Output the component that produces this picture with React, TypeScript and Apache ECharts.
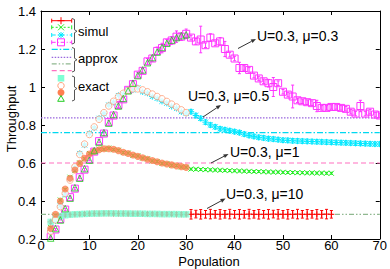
import React, { useEffect, useRef } from 'react';
import * as echarts from 'echarts';

const FONT = "'Liberation Sans', Arial, Helvetica, sans-serif";

// population values (x)
const population = [2,3,4,5,6,7,8,9,10,11,12,13,14,15,16,17,18,19,20,21,22,23,24,25,26,27,28,29,30,
  31,32,33,34,35,36,37,38,39,40,41,42,43,44,45,46,47,48,49,50,51,52,53,54,55,56,57,58,59,60,
  61,62,63,64,65,66,67,68,69,70];

const xTicks = [0, 70, 10];
const yTicks = [0.2, 1.4, 0.2];

// exact (N = 2..30)
const exactMu10 = [0.29,0.31,0.32,0.325,0.328,0.33,0.331,0.332,0.333,0.334,0.334,0.335,0.335,0.335,0.334,0.334,0.334,0.333,0.333,0.333,0.332,0.332,0.332,0.331,0.331,0.331,0.331,0.33,0.33];
const exactMu05 = [0.24,0.30,0.37,0.44,0.51,0.58,0.645,0.70,0.75,0.79,0.83,0.865,0.90,0.925,0.95,0.967,0.982,0.99,0.99,0.985,0.975,0.963,0.95,0.938,0.924,0.91,0.895,0.88,0.865];
const exactMu1 = [0.255,0.33,0.40,0.463,0.52,0.563,0.598,0.625,0.647,0.662,0.67,0.675,0.675,0.672,0.665,0.657,0.65,0.642,0.635,0.628,0.62,0.613,0.607,0.60,0.595,0.59,0.585,0.581,0.577];
const exactMu03 = [0.205,0.255,0.30,0.36,0.415,0.47,0.52,0.57,0.615,0.665,0.71,0.76,0.81,0.855,0.90,0.94,0.98,1.02,1.06,1.09,1.128,1.155,1.184,1.208,1.23,1.247,1.26,1.27,1.275];

// simulation (mu=10 and mu=1: N = 2..60; mu=0.5 and mu=0.3: N = 2..70)
const simulMu10 = [0.29,0.31,0.32,0.326,0.328,0.33,0.331,0.332,0.333,0.334,0.334,0.335,0.335,0.334,0.334,0.334,0.333,0.333,0.333,0.332,0.332,0.332,0.331,0.331,0.331,0.331,0.33,0.33,0.33,
  0.33,0.331,0.33,0.33,0.331,0.33,0.33,0.33,0.331,0.33,0.33,0.33,0.331,0.33,0.33,0.33,0.33,0.331,0.33,0.33,0.33,0.33,0.331,0.33,0.33,0.33,0.33,0.33,0.331,0.33];
const errMu10 = [0.008,0.008,0.008,0.008,0.008,0.008,0.008,0.008,0.008,0.008,0.008,0.008,0.008,0.008,0.008,0.008,0.008,0.008,0.008,0.008,0.008,0.008,0.008,0.008,0.008,0.008,0.008,0.008,0.008,
  0.025,0.02,0.025,0.02,0.025,0.02,0.025,0.02,0.025,0.02,0.025,0.02,0.025,0.02,0.025,0.02,0.025,0.02,0.025,0.02,0.025,0.02,0.025,0.02,0.025,0.02,0.025,0.02,0.025,0.02];
const simulMu1 = [0.26,0.325,0.405,0.46,0.525,0.56,0.60,0.622,0.65,0.66,0.673,0.672,0.678,0.67,0.667,0.655,0.652,0.64,0.637,0.626,0.622,0.611,0.608,0.598,0.596,0.588,0.586,0.579,0.578,
  0.568,0.567,0.566,0.565,0.564,0.563,0.562,0.561,0.56,0.559,0.558,0.557,0.556,0.555,0.555,0.554,0.553,0.552,0.552,0.551,0.55,0.55,0.549,0.549,0.548,0.548,0.547,0.547,0.546,0.546];
const errMu1 = [0.005,0.005,0.005,0.005,0.005,0.005,0.005,0.005,0.005,0.005,0.005,0.005,0.005,0.005,0.005,0.005,0.005,0.005,0.005,0.005,0.005,0.005,0.005,0.005,0.005,0.005,0.005,0.005,0.005,
  0.005,0.005,0.005,0.005,0.005,0.005,0.005,0.005,0.005,0.005,0.005,0.005,0.005,0.005,0.005,0.005,0.005,0.005,0.005,0.005,0.005,0.005,0.005,0.005,0.005,0.005,0.005,0.005,0.005,0.005];
const simulMu05 = [0.245,0.295,0.375,0.435,0.515,0.575,0.65,0.695,0.755,0.785,0.835,0.86,0.905,0.92,0.955,0.962,0.985,0.985,0.995,0.975,0.968,0.95,0.94,0.925,0.915,0.898,0.888,0.87,0.862,
  0.87,0.85,0.835,0.815,0.80,0.79,0.78,0.775,0.77,0.765,0.76,0.752,0.745,0.74,0.735,0.732,0.728,0.726,0.723,0.72,0.719,0.717,0.716,0.715,0.714,0.713,0.712,0.711,0.71,0.709,0.708,0.707,0.706,0.705,0.704,0.703,0.702,0.701,0.70,0.70];
const errMu05 = [0.005,0.005,0.005,0.005,0.005,0.005,0.005,0.005,0.005,0.005,0.005,0.005,0.005,0.005,0.005,0.005,0.005,0.005,0.005,0.005,0.005,0.005,0.005,0.005,0.005,0.005,0.005,0.005,0.005,
  0.012,0.012,0.012,0.012,0.012,0.012,0.012,0.012,0.012,0.012,0.012,0.012,0.012,0.012,0.012,0.012,0.012,0.012,0.012,0.012,0.012,0.012,0.012,0.012,0.012,0.012,0.012,0.012,0.012,0.012,0.012,0.012,0.012,0.012,0.012,0.012,0.012,0.012,0.012,0.012];
const simulMu03 = [0.21,0.25,0.305,0.355,0.42,0.465,0.525,0.565,0.62,0.66,0.715,0.755,0.815,0.85,0.905,0.935,0.985,1.015,1.065,1.085,1.135,1.15,1.19,1.205,1.235,1.245,1.265,1.265,1.28,
  1.26,1.24,1.25,1.22,1.26,1.23,1.24,1.20,1.17,1.15,1.10,1.10,1.09,1.06,1.045,1.03,1.02,1.00,1.02,0.975,0.96,0.95,0.93,0.925,0.92,0.915,0.90,0.89,0.89,0.895,0.895,0.89,0.885,0.87,0.86,0.90,0.86,0.87,0.855,0.85];
const errMu03 = [0.005,0.005,0.005,0.006,0.006,0.006,0.007,0.007,0.008,0.008,0.008,0.01,0.01,0.01,0.012,0.012,0.012,0.015,0.012,0.012,0.015,0.015,0.02,0.025,0.015,0.02,0.03,0.02,0.025,
  0.012,0.015,0.07,0.012,0.02,0.012,0.02,0.04,0.012,0.012,0.03,0.012,0.012,0.012,0.012,0.012,0.02,0.05,0.012,0.012,0.012,0.06,0.012,0.012,0.012,0.012,0.03,0.012,0.012,0.012,0.012,0.012,0.012,0.012,0.012,0.03,0.012,0.012,0.012,0.012];

// approximations (horizontal levels)
const approxMu05 = 0.76;
const approxMu03 = 0.838;
const approxMu10 = 0.33;
const approxMu1 = 0.60;

const C = {
  red: '#ff0000',
  green: '#22ee22',
  cyan: '#00e8ff',
  magenta: '#ff33ff',
  apCyan: '#00d8f0',
  apPurple: '#9966dd',
  apGray: '#90b890',
  apPink: '#ff70c0',
  aqua: '#7fffd4',
  salmon: '#ffa07a',
  coral: '#ff7f50',
  tri: '#22cc22',
};

function markerShapes(kind: string, x: number, y: number, color: string, s: number) {
  const st = { stroke: color, lineWidth: 1, fill: 'none' };
  const out: any[] = [];
  if (kind === 'plus' || kind === 'star') {
    out.push({ type: 'line', shape: { x1: x - s, y1: y, x2: x + s, y2: y }, style: st });
    out.push({ type: 'line', shape: { x1: x, y1: y - s, x2: x, y2: y + s }, style: st });
  }
  if (kind === 'cross' || kind === 'star') {
    const d = kind === 'star' ? s * 0.8 : s;
    out.push({ type: 'line', shape: { x1: x - d, y1: y - d, x2: x + d, y2: y + d }, style: st });
    out.push({ type: 'line', shape: { x1: x - d, y1: y + d, x2: x + d, y2: y - d }, style: st });
  }
  if (kind === 'square') {
    out.push({ type: 'rect', shape: { x: x - s, y: y - s, width: 2 * s, height: 2 * s }, style: st });
  }
  return out;
}

function simulSeries(name: string, vals: number[], errs: number[], color: string, kind: string, size: number, z: number) {
  return {
    type: 'custom',
    name,
    z,
    clip: true,
    encode: { x: 0, y: 1 },
    data: vals.map((v, i) => [population[i], v, errs[i]]),
    renderItem: (params: any, api: any) => {
      const x = api.value(0), y = api.value(1), e = api.value(2);
      const c = api.coord([x, y]);
      const hi = api.coord([x, y + e]);
      const lo = api.coord([x, y - e]);
      const st = { stroke: color, lineWidth: 1 };
      const ch: any[] = [];
      if (e > 0) {
        ch.push({ type: 'line', shape: { x1: c[0], y1: hi[1], x2: c[0], y2: lo[1] }, style: st });
        ch.push({ type: 'line', shape: { x1: c[0] - 1.5, y1: hi[1], x2: c[0] + 1.5, y2: hi[1] }, style: st });
        ch.push({ type: 'line', shape: { x1: c[0] - 1.5, y1: lo[1], x2: c[0] + 1.5, y2: lo[1] }, style: st });
      }
      ch.push(...markerShapes(kind, c[0], c[1], color, size));
      return { type: 'group', children: ch };
    },
  };
}

function hLine(name: string, v: number, color: string, dash: number[], z: number) {
  return {
    type: 'line', name, z, symbol: 'none', silent: true,
    data: [[xTicks[0], v], [xTicks[1], v]],
    lineStyle: { color, width: 1.2, type: dash },
  };
}

function arrow(x1: number, y1: number, x2: number, y2: number) {
  const dx = x2 - x1, dy = y2 - y1, L = Math.hypot(dx, dy);
  const ux = dx / L, uy = dy / L;
  const hl = 5, hw = 2;
  const bx = x2 - ux * hl, by = y2 - uy * hl;
  return [
    { type: 'line', z: 20, shape: { x1, y1, x2: bx, y2: by }, style: { stroke: '#333', lineWidth: 1 } },
    { type: 'polygon', z: 20, shape: { points: [[x2, y2], [bx - uy * hw, by + ux * hw], [bx + uy * hw, by - ux * hw]] }, style: { fill: '#333' } },
  ];
}

function text(t: string, x: number, y: number, size: number, extra: any = {}) {
  return {
    type: 'text', z: 20, x, y, ...extra,
    style: { text: t, fill: '#000', font: `${size}px ${FONT}`, textAlign: extra.align || 'left', align: extra.align || 'left', textVerticalAlign: 'middle', verticalAlign: 'middle' },
  };
}

const notes = [
  { t: 'U=0.3, μ=0.3', x: 257, y: 36, a: [238, 48.5, 256, 39] },
  { t: 'U=0.3, μ=0.5', x: 188, y: 96, a: [203, 117, 221, 105] },
  { t: 'U=0.3, μ=1', x: 230, y: 152, a: [211, 163, 228.5, 154] },
  { t: 'U=0.3, μ=10', x: 226, y: 194, a: [207, 208.5, 225.5, 198.5] },
];

function buildGraphic() {
  const g: any[] = [];
  const L1 = 51.7, L2 = 71.7, MX = 61;
  const simRows = [
    { y: 20.7, color: C.red, kind: 'plus', dash: null, s: 3.5 },
    { y: 27.3, color: C.green, kind: 'cross', dash: [2, 2], s: 3 },
    { y: 35, color: C.cyan, kind: 'star', dash: [4, 2, 1, 2], s: 3 },
    { y: 42.3, color: C.magenta, kind: 'square', dash: [4, 2, 1, 2], s: 3.5 },
  ];
  simRows.forEach((r) => {
    const st: any = { stroke: r.color, lineWidth: 1 };
    if (r.dash) st.lineDash = r.dash;
    g.push({ type: 'line', z: 20, shape: { x1: L1, y1: r.y, x2: L2, y2: r.y }, style: st });
    g.push({ type: 'line', z: 20, shape: { x1: L1, y1: r.y - 2, x2: L1, y2: r.y + 2 }, style: { stroke: r.color, lineWidth: 1 } });
    g.push({ type: 'line', z: 20, shape: { x1: L2, y1: r.y - 2, x2: L2, y2: r.y + 2 }, style: { stroke: r.color, lineWidth: 1 } });
    markerShapes(r.kind, MX, r.y, r.color, r.s).forEach((m) => g.push({ ...m, z: 20 }));
  });
  const apRows = [
    { y: 49.3, color: C.apCyan, dash: [6, 2, 1.5, 2] },
    { y: 57.3, color: C.apPurple, dash: [1.5, 1.5] },
    { y: 63.8, color: C.apGray, dash: [5, 2, 1.5, 2, 1.5, 2] },
    { y: 70.7, color: C.apPink, dash: [5, 3] },
  ];
  apRows.forEach((r) => {
    g.push({ type: 'line', z: 20, shape: { x1: L1, y1: r.y, x2: L2, y2: r.y }, style: { stroke: r.color, lineWidth: 1.2, lineDash: r.dash } });
  });
  g.push({ type: 'rect', z: 20, shape: { x: MX - 3.3, y: 78.3 - 3.3, width: 6.6, height: 6.6 }, style: { fill: C.aqua } });
  g.push({ type: 'circle', z: 20, shape: { cx: MX, cy: 85.7, r: 3.2 }, style: { fill: '#fff', stroke: C.salmon, lineWidth: 1 } });
  g.push({ type: 'circle', z: 20, shape: { cx: MX, cy: 92.5, r: 3.5 }, style: { fill: C.coral } });
  g.push({ type: 'polygon', z: 20, shape: { points: [[MX, 95.5], [MX - 3.3, 101.3], [MX + 3.3, 101.3]] }, style: { fill: 'none', stroke: C.tri, lineWidth: 1 } });
  const brace = (top: number, bot: number) => {
    const mid = (top + bot) / 2;
    return {
      type: 'polyline', z: 20,
      shape: { points: [[72, top], [74.5, top + 1], [74.5, mid - 1.5], [77, mid], [74.5, mid + 1.5], [74.5, bot - 1], [72, bot]] },
      style: { stroke: '#555', lineWidth: 1, fill: 'none' },
    };
  };
  g.push(brace(18.5, 44));
  g.push(brace(47.5, 72));
  g.push(brace(76, 101));
  g.push(text('simul', 78, 31, 13));
  g.push(text('approx', 78, 58, 13));
  g.push(text('exact', 78, 86, 13));
  notes.forEach((n) => {
    g.push(text(n.t, n.x, n.y, 14));
    arrow(n.a[0], n.a[1], n.a[2], n.a[3]).forEach((e) => g.push(e));
  });
  g.push(text('Population', 209, 261.2, 13, { align: 'center' }));
  g.push({
    type: 'text', z: 20, x: 11.5, y: 119, rotation: Math.PI / 2,
    style: { text: 'Throughput', fill: '#000', font: `13px ${FONT}`, textAlign: 'center', align: 'center', textVerticalAlign: 'middle', verticalAlign: 'middle' },
  });
  return g;
}

function axisCommon(show: boolean) {
  return {
    type: 'value',
    axisLine: { show: true, onZero: false, lineStyle: { color: '#000', width: 1 } },
    axisTick: { show: true, inside: true, length: 4, lineStyle: { color: '#000', width: 1 } },
    splitLine: { show: false },
    axisLabel: { show, color: '#000', fontSize: 13, fontFamily: FONT },
  };
}

export default function App() {
  const ref = useRef<HTMLDivElement>(null);
  useEffect(() => {
    document.body.style.margin = '0';
    const chart = echarts.init(ref.current as HTMLDivElement, null, { renderer: 'svg' });
    const xa = (pos: string, show: boolean) => ({
      ...axisCommon(show), position: pos, min: xTicks[0], max: xTicks[1], interval: xTicks[2],
      axisLabel: { ...axisCommon(show).axisLabel, margin: 0 },
    });
    const ya = (pos: string, show: boolean) => ({
      ...axisCommon(show), position: pos, min: yTicks[0], max: yTicks[1], interval: yTicks[2],
      axisLabel: { ...axisCommon(show).axisLabel, margin: 5, formatter: (v: number) => String(+v.toFixed(1)) },
    });
    const exactData = (vals: number[]) => vals.map((v, i) => [population[i], v]);
    chart.setOption({
      animation: false,
      backgroundColor: '#fff',
      grid: { left: 41, right: 10, top: 11, bottom: 30, containLabel: false },
      xAxis: [xa('bottom', true), xa('top', false)],
      yAxis: [ya('left', true), ya('right', false)],
      series: [
        hLine('approx mu=0.5', approxMu05, C.apCyan, [6, 2, 1.5, 2], 1),
        hLine('approx mu=0.3', approxMu03, C.apPurple, [1.5, 1.5], 1),
        hLine('approx mu=10', approxMu10, C.apGray, [5, 2, 1.5, 2, 1.5, 2], 1),
        hLine('approx mu=1', approxMu1, C.apPink, [5, 3], 1),
        simulSeries('simul mu=10', simulMu10, errMu10, C.red, 'plus', 3, 2),
        simulSeries('simul mu=1', simulMu1, errMu1, C.green, 'cross', 2.5, 2),
        simulSeries('simul mu=0.5', simulMu05, errMu05, C.cyan, 'star', 3.2, 2),
        simulSeries('simul mu=0.3', simulMu03, errMu03, C.magenta, 'square', 3.5, 2),
        { type: 'scatter', name: 'exact mu=10', z: 3, symbol: 'rect', symbolSize: 6.5, data: exactData(exactMu10), itemStyle: { color: C.aqua } },
        { type: 'scatter', name: 'exact mu=0.5', z: 3, symbol: 'circle', symbolSize: 6.5, data: exactData(exactMu05), itemStyle: { color: '#fff', borderColor: C.salmon, borderWidth: 1 } },
        { type: 'scatter', name: 'exact mu=1', z: 3, symbol: 'circle', symbolSize: 7, data: exactData(exactMu1), itemStyle: { color: C.coral } },
        { type: 'scatter', name: 'exact mu=0.3', z: 4, symbol: 'triangle', symbolSize: 6.5, data: exactData(exactMu03), itemStyle: { color: 'rgba(0,0,0,0)', borderColor: C.tri, borderWidth: 1 } },
      ],
      graphic: buildGraphic(),
    });
    return () => chart.dispose();
  }, []);
  return <div ref={ref} style={{ width: 390, height: 269 }} />;
}
